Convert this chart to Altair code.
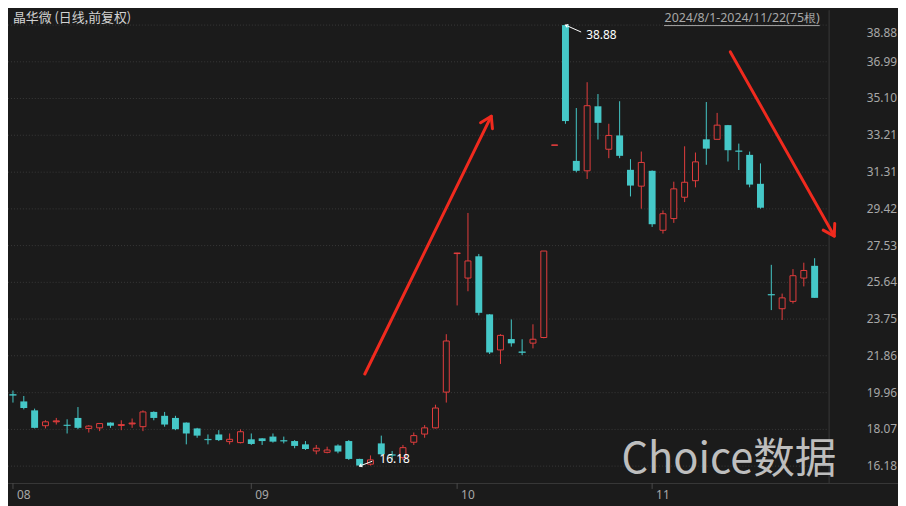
import altair as alt
import pandas as pd
import numpy as np

# ---------------- data ----------------
opens = [19.88, 19.51, 19.05, 18.26, 18.46, 18.31, 18.66, 18.12, 18.15, 18.42,
         18.27, 18.35, 18.21, 18.97, 18.77, 18.66, 18.42, 18.12, 17.58, 17.81,
         17.44, 17.39, 17.56, 17.61, 17.70, 17.51, 17.47, 17.30, 16.96, 16.89,
         17.24, 17.47, 16.55, 16.28, 17.35, 16.78, 16.62, 17.41, 17.83, 18.15,
         19.99, 27.12, 25.86, 26.98, 23.99, 22.16, 22.72, 22.08, 22.51, 22.80,
         32.70, 38.88, 31.89, 31.38, 34.70, 32.49, 33.20, 31.43, 30.59, 31.38,
         28.32, 28.92, 30.02, 30.87, 33.00, 33.00, 33.73, 32.42, 32.20, 30.71,
         25.03, 24.28, 24.66, 25.86, 26.49]
highs = [20.07, 19.79, 19.14, 18.54, 18.66, 18.59, 19.22, 18.29, 18.38, 18.43,
         18.54, 18.63, 19.05, 19.00, 18.97, 18.77, 18.43, 18.15, 17.81, 18.03,
         17.86, 18.07, 17.86, 17.62, 17.86, 17.70, 17.52, 17.47, 17.27, 17.18,
         17.30, 17.52, 16.56, 16.73, 17.75, 16.96, 17.27, 17.91, 18.29, 19.34,
         22.97, 27.16, 29.21, 27.10, 24.00, 22.97, 23.73, 22.71, 23.48, 27.25,
         32.70, 38.88, 34.61, 35.94, 35.33, 33.80, 34.96, 31.98, 32.37, 31.40,
         29.34, 30.82, 32.64, 32.32, 34.92, 34.36, 33.74, 32.78, 32.37, 31.76,
         26.54, 25.06, 26.32, 26.65, 26.88]
lows = [19.45, 19.10, 18.12, 18.12, 18.32, 17.86, 18.08, 17.91, 17.98, 18.15,
        18.03, 18.15, 17.98, 18.54, 18.21, 18.03, 17.30, 17.64, 17.30, 17.47,
        17.30, 17.35, 17.27, 17.27, 17.39, 17.35, 17.10, 17.01, 16.79, 16.84,
        16.84, 16.50, 16.18, 16.21, 16.73, 16.50, 16.50, 17.27, 17.64, 18.12,
        19.45, 24.45, 25.18, 23.94, 21.95, 21.44, 22.33, 21.89, 22.24, 22.76,
        32.70, 33.80, 31.30, 30.96, 32.99, 32.03, 32.03, 30.06, 29.43, 28.49,
        28.15, 28.70, 29.77, 30.53, 31.69, 33.00, 31.86, 31.42, 30.53, 29.43,
        24.21, 23.70, 24.55, 25.43, 24.84]
closes = [19.83, 19.17, 18.15, 18.46, 18.50, 18.27, 18.15, 18.24, 18.37, 18.26,
          18.31, 18.39, 18.97, 18.66, 18.32, 18.08, 17.86, 17.75, 17.54, 17.52,
          17.56, 17.95, 17.32, 17.47, 17.44, 17.47, 17.22, 17.06, 17.10, 17.01,
          16.93, 16.55, 16.21, 16.50, 16.79, 16.74, 17.13, 17.75, 18.15, 19.17,
          22.62, 27.14, 26.74, 24.07, 22.03, 22.91, 22.50, 22.03, 22.71, 27.25,
          32.70, 33.94, 31.38, 34.73, 33.85, 33.20, 32.15, 30.62, 31.81, 28.63,
          29.17, 30.45, 30.79, 31.84, 32.52, 33.73, 32.44, 32.38, 30.67, 29.48,
          24.99, 24.84, 25.98, 26.25, 24.84]

price_ticks = [38.88, 36.99, 35.10, 33.21, 31.31, 29.42, 27.53,
               25.64, 23.75, 21.86, 19.96, 18.07, 16.18]
month_labels = ["08", "09", "10", "11"]
month_start = [0, 22, 41, 59]

# hand-drawn trend arrows (candle index / price units)
arrow_x1 = [32.48, 66.22]
arrow_y1 = [20.92, 37.50]
arrow_x2 = [44.15, 75.81]
arrow_y2 = [34.19, 28.02]
arrow_angle = [26.5, 150.3]

title_text = "晶华微 (日线,前复权)"
range_text = "2024/8/1-2024/11/22(75根)"
watermark = "Choice数据"

# ---------------- styling ----------------
W, H = 898, 498
PX_X = 11.054      # px per candle
PX_Y = 19.6035     # px per price unit
BG = "#1b1b1b"
UP = "#e43e3e"
DOWN = "#45c8c8"
ARROW = "#f02a1e"
LINE = "#3a3a3a"
TXT = "#a8a8a8"
FONT = "Noto Sans CJK SC"
NUMFONT = "Noto Sans"

df = pd.DataFrame({"i": range(len(opens)), "o": opens, "h": highs, "l": lows, "c": closes})
df["dir"] = np.where(df["c"] >= df["o"], "up", "down")
df["doji"] = (df["c"] - df["o"]).abs() < 0.1

xs = alt.Scale(domain=[0, W / PX_X], nice=False, zero=False)
ys = alt.Scale(domain=[16.18 - 38 / PX_Y, 16.18 + 460 / PX_Y], nice=False, zero=False)
col = alt.Color("dir:N", scale=alt.Scale(domain=["up", "down"], range=[UP, DOWN]), legend=None)

def X(f):
    return alt.X(f, type="quantitative", scale=xs, axis=None)

def Y(f):
    return alt.Y(f, type="quantitative", scale=ys, axis=None)

one = pd.DataFrame({"k": [0]})

# grid
grid = alt.Chart(pd.DataFrame({"v": price_ticks})).mark_rule(
    color=LINE, strokeDash=[1, 2], strokeWidth=1
).encode(y=Y("v"), x=alt.value(0), x2=alt.value(828))

vsep = alt.Chart(one).mark_rule(color=LINE, strokeWidth=1).encode(
    x=alt.value(828.5), y=alt.value(0), y2=alt.value(477))
hsep = alt.Chart(one).mark_rule(color=LINE, strokeWidth=1).encode(
    x=alt.value(0), x2=alt.value(W), y=alt.value(477.5))

mdf = pd.DataFrame({"i": month_start, "t": month_labels})
mticks = alt.Chart(mdf).mark_rule(color="#4a4a4a").encode(
    x=X("i"), y=alt.value(477), y2=alt.value(483))
mtext = alt.Chart(mdf).mark_text(align="left", baseline="middle", dx=4, fontSize=12,
                                 color=TXT, font=NUMFONT).encode(
    x=X("i"), y=alt.value(489), text="t:N")

# right price labels
ldf = pd.DataFrame({"v": price_ticks, "t": [f"{v:.2f}" for v in price_ticks]})
lab_rest = alt.Chart(ldf).transform_filter("datum.v < 38").mark_text(
    align="right", baseline="middle", fontSize=12, color=TXT, font=NUMFONT
).encode(x=alt.value(897), y=Y("v"), text="t:N")
lab_top = alt.Chart(ldf).transform_filter("datum.v >= 38").mark_text(
    align="right", baseline="middle", fontSize=12, color=TXT, font=NUMFONT, dy=8
).encode(x=alt.value(897), y=Y("v"), text="t:N")

# candles
wick = alt.Chart(df).mark_rule(strokeWidth=1).encode(x=X("i"), y=Y("l"), y2="h:Q", color=col)
body_dn = alt.Chart(df).transform_filter("datum.dir == 'down'").mark_bar(
    size=7, color=DOWN).encode(x=X("i"), y=Y("o"), y2="c:Q")
body_up = alt.Chart(df).transform_filter("datum.dir == 'up'").mark_bar(
    size=6, fill=BG, stroke=UP, strokeWidth=1).encode(x=X("i"), y=Y("o"), y2="c:Q")
doji = alt.Chart(df).transform_filter("datum.doji").mark_tick(
    orient="horizontal", size=7, thickness=1).encode(x=X("i"), y=Y("c"), color=col)

# max / min annotations
imax = int(np.argmax(highs))
imin = int(np.argmin(lows))
adf = pd.DataFrame({
    "i": [imax, imin], "v": [highs[imax], lows[imin]],
    "t": [f"{highs[imax]:.2f}", f"{lows[imin]:.2f}"],
    "i2": [imax + 16 / PX_X, imin + 13 / PX_X],
    "v2": [highs[imax] - 7 / PX_Y, lows[imin] + 5 / PX_Y],
    "ang": [292.0, 247.0],
})
lead = alt.Chart(adf).mark_rule(color="white", strokeWidth=1).encode(
    x=X("i"), y=Y("v"), x2="i2:Q", y2="v2:Q")
lead_head = alt.Chart(adf).mark_point(
    shape="M -0.55 0.85 L 0 0 L 0.55 0.85", filled=False, color="white",
    strokeWidth=1, size=36, opacity=1).encode(
    x=X("i"), y=Y("v"), angle=alt.Angle("ang:Q", scale=None))
txt_max = alt.Chart(adf.iloc[[0]]).mark_text(
    align="left", baseline="middle", dx=21, dy=10, fontSize=12, color="white", font=NUMFONT
).encode(x=X("i"), y=Y("v"), text="t:N")
txt_min = alt.Chart(adf.iloc[[1]]).mark_text(
    align="left", baseline="middle", dx=20, dy=-7, fontSize=12, color="white", font=NUMFONT
).encode(x=X("i"), y=Y("v"), text="t:N")

# red trend arrows
ardf = pd.DataFrame({"x": arrow_x1, "y": arrow_y1, "x2": arrow_x2, "y2": arrow_y2,
                     "ang": arrow_angle})
ar_line = alt.Chart(ardf).mark_rule(color=ARROW, strokeWidth=3, strokeCap="round").encode(
    x=X("x"), y=Y("y"), x2="x2:Q", y2="y2:Q")
ar_head = alt.Chart(ardf).mark_point(
    shape="M -0.53 0.85 L 0 0 L 0.53 0.85", filled=False, color=ARROW,
    strokeWidth=3, size=640, opacity=1, strokeCap="round", strokeJoin="round").encode(
    x=X("x2"), y=Y("y2"), angle=alt.Angle("ang:Q", scale=None))

# texts
title = alt.Chart(one).mark_text(align="left", baseline="middle", fontSize=13,
                                 color="#d2d2d2", font=FONT).encode(
    x=alt.value(5), y=alt.value(8), text=alt.value(title_text))
rng = alt.Chart(one).mark_text(align="right", baseline="middle", fontSize=12.5,
                               color=TXT, font=NUMFONT).encode(
    x=alt.value(819), y=alt.value(7.5), text=alt.value(range_text))
rng_ul = alt.Chart(one).mark_rule(color=TXT, strokeWidth=1).encode(
    x=alt.value(662), x2=alt.value(819), y=alt.value(15.5))
wm = alt.Chart(one).mark_text(align="left", baseline="middle", fontSize=42,
                              color="#d0d0d0", opacity=0.9, font=FONT).encode(
    x=alt.value(619), y=alt.value(454), text=alt.value(watermark))

chart = alt.layer(
    grid, vsep, hsep, mticks, mtext, lab_rest, lab_top,
    wick, body_dn, body_up, doji,
    lead, lead_head, txt_max, txt_min,
    ar_line, ar_head, title, rng, rng_ul, wm,
).properties(
    width=W, height=H, autosize=alt.AutoSizeParams(type="none"), padding=0,
    background=BG,
).configure_view(stroke=None)

chart.save("out.html", embed_options={"renderer": "svg", "actions": False})
